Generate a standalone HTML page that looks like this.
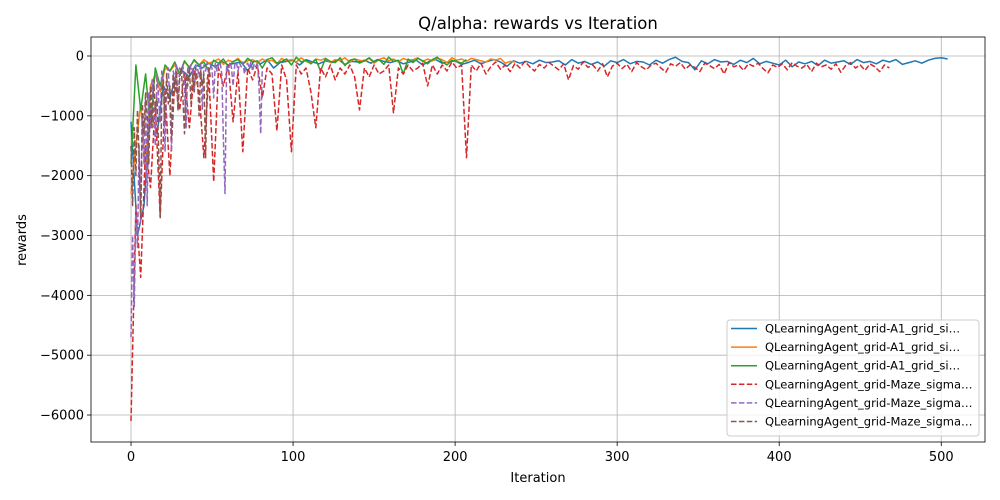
<!DOCTYPE html>
<html><head><meta charset="utf-8"><style>
body{margin:0;background:#fff;}
svg{display:block;font-family:"DejaVu Sans","Liberation Sans",sans-serif;}
</style></head><body>
<svg id="chart" width="1000" height="500" viewBox="0 0 1000 500"></svg>
<script>
const seriesNames = ["QLearningAgent_grid-A1_grid_si…","QLearningAgent_grid-A1_grid_si…","QLearningAgent_grid-A1_grid_si…","QLearningAgent_grid-Maze_sigma…","QLearningAgent_grid-Maze_sigma…","QLearningAgent_grid-Maze_sigma…"];
const xTicks = [0,100,200,300,400,500];
const yTicks = [0,-1000,-2000,-3000,-4000,-5000,-6000];
const blueStep = 4;
const blueY = [-1100,-3000,-2500,-900,-1300,-500,-700,-300,-250,-350,-150,-200,-120,-180,-90,-150,-120,-100,-250,-80,-130,-60,-200,-110,-90,-70,-150,-60,-100,-130,-80,-110,-60,-140,-90,-100,-70,-120,-60,-90,-110,-80,-130,-100,-70,-150,-90,-60,-120,-100,-80,-140,-110,-70,-130,-90,-60,-100,-170,-80,-120,-90,-130,-70,-110,-100,-80,-150,-60,-120,-90,-140,-100,-170,-80,-110,-60,-130,-90,-100,-150,-70,-120,-60,-20,-90,-110,-230,-80,-130,-60,-100,-90,-140,-70,-110,-40,-130,-90,-120,-150,-70,-180,-100,-130,-90,-160,-70,-120,-100,-80,-140,-60,-110,-90,-130,-70,-100,-60,-140,-110,-80,-120,-70,-40,-30,-50];
const orangeStep = 3;
const orangeY = [-2300,-1500,-800,-1900,-500,-300,-600,-200,-250,-150,-300,-100,-180,-80,-150,-60,-120,-90,-50,-140,-70,-100,-40,-130,-80,-60,-110,-50,-90,-70,-130,-40,-80,-60,-100,-30,-90,-120,-50,-70,-40,-110,-60,-80,-30,-100,-50,-70,-90,-40,-120,-60,-30,-80,-50,-100,-40,-70,-60,-30,-90,-50,-80,-40,-60,-110,-30,-70,-50,-90,-40,-60,-80,-100,-50,-70,-40,-120,-90,-100];
const greenStep = 3;
const greenY = [-1800,-150,-900,-300,-1200,-200,-500,-150,-250,-100,-300,-80,-200,-60,-150,-100,-250,-70,-120,-50,-180,-90,-60,-140,-40,-100,-80,-200,-60,-30,-120,-90,-50,-150,-20,-100,-70,-130,-60,-250,-40,-90,-110,-30,-160,-70,-50,-120,-80,-30,-100,-60,-140,-20,-90,-70,-300,-50,-110,-40,-80,-130,-60,-20,-100,-150,-70,-90,-120,-60];
const redStep = 3;
const redY = [-6100,-2500,-3700,-1500,-2200,-800,-2700,-600,-2000,-400,-900,-300,-1200,-250,-600,-1700,-300,-2100,-200,-500,-150,-1100,-250,-1600,-200,-400,-150,-700,-200,-300,-1250,-150,-400,-1600,-150,-300,-200,-600,-1200,-200,-350,-150,-400,-200,-300,-150,-350,-900,-200,-350,-150,-300,-250,-150,-950,-200,-300,-150,-250,-200,-120,-500,-150,-300,-150,-250,-100,-200,-150,-1700,-150,-250,-120,-300,-180,-100,-220,-150,-260,-120,-200,-90,-180,-250,-140,-200,-110,-170,-230,-130,-400,-160,-220,-100,-190,-150,-250,-130,-350,-170,-120,-210,-140,-260,-110,-180,-230,-150,-120,-200,-270,-130,-170,-110,-220,-150,-190,-260,-120,-160,-210,-140,-300,-110,-180,-150,-240,-130,-170,-120,-210,-280,-150,-190,-130,-230,-110,-170,-200,-140,-260,-120,-180,-150,-220,-130,-270,-160,-110,-200,-150,-240,-130,-180,-260,-150,-200];
const purpleStep = 1;
const purpleY = [-4700,-3000,-4200,-2500,-3200,-1500,-2800,-1000,-1800,-700,-2500,-600,-1200,-400,-900,-1500,-300,-700,-1100,-250,-500,-1600,-300,-200,-800,-1600,-250,-400,-150,-900,-200,-300,-150,-500,-1200,-200,-300,-150,-250,-600,-150,-200,-350,-120,-900,-150,-250,-100,-300,-150,-200,-700,-120,-250,-150,-100,-300,-1400,-2300,-150,-250,-100,-200,-500,-150,-100,-250,-120,-180,-100,-300,-150,-120,-200,-100,-250,-130,-180,-110,-500,-1300,-200];
const brownStep = 1;
const brownY = [-1500,-2500,-1200,-2000,-900,-1700,-2700,-800,-1300,-600,-1000,-1800,-500,-1200,-400,-900,-700,-1500,-2700,-600,-400,-1100,-300,-800,-500,-1400,-300,-600,-250,-900,-400,-200,-700,-1300,-300,-500,-200,-800,-300,-600,-200,-400,-1000,-250,-500,-300,-1700,-400,-200,-350];

const colors = ["#1f77b4","#ff7f0e","#2ca02c","#d62728","#9467bd","#8c564b"];
const ns = "http://www.w3.org/2000/svg";
const svg = document.getElementById('chart');
const L=91,R=985,T=37,B=442;
const xMin=-24.7,xMax=527,yMin=-6451,yMax=317.6;
const xs = v => L+(v-xMin)/(xMax-xMin)*(R-L);
const ys = v => B-(v-yMin)/(yMax-yMin)*(B-T);
function mk(tag, attrs, parent){const e=document.createElementNS(ns,tag);for(const k in attrs)e.setAttribute(k,attrs[k]);(parent||svg).appendChild(e);return e;}

const grid = mk('g',{});


const axes = mk('g',{});


xTicks.forEach(t=>{
  const x=xs(t);
  mk('line',{x1:x,x2:x,y1:T,y2:B,stroke:'#b0b0b0','stroke-width':0.8},grid);
  mk('line',{x1:x,x2:x,y1:B,y2:B+4,stroke:'#000','stroke-width':0.8},axes);
  const tx=mk('text',{x:x,y:B+19,'text-anchor':'middle','font-size':13,fill:'#000'},axes);
  tx.textContent=t;
  
  
});
yTicks.forEach(t=>{
  const y=ys(t);
  mk('line',{x1:L,x2:R,y1:y,y2:y,stroke:'#b0b0b0','stroke-width':0.8},grid);
  mk('line',{x1:L-4,x2:L,y1:y,y2:y,stroke:'#000','stroke-width':0.8},axes);
  const tx=mk('text',{x:L-7,y:y+4.5,'text-anchor':'end','font-size':13,fill:'#000'},axes);
  tx.textContent=t===0?'0':'\u2212'+Math.abs(t);
  
  
});

const allY=[blueY,orangeY,greenY,redY,purpleY,brownY];
const steps=[blueStep,orangeStep,greenStep,redStep,purpleStep,brownStep];
const lineNames=['series-a1-1','series-a1-2','series-a1-3','series-maze-1','series-maze-2','series-maze-3'];
const clip=mk('clipPath',{id:'pc'});mk('rect',{x:L,y:T,width:R-L,height:B-T},clip);
allY.forEach((arr,si)=>{
  const d=arr.map((v,i)=>(i?'L':'M')+xs(i*steps[si]).toFixed(1)+','+ys(v).toFixed(1)).join('');
  const p=mk('path',{d:d,fill:'none',stroke:colors[si],'stroke-width':1.5,'stroke-linejoin':'round','clip-path':'url(#pc)'});
  if(si>=3)p.setAttribute('stroke-dasharray','5.5,2.4');
  
  
});

mk('rect',{x:L,y:T,width:R-L,height:B-T,fill:'none',stroke:'#000','stroke-width':0.8},axes);
const title=mk('text',{x:(L+R)/2,y:29,'text-anchor':'middle','font-size':16.5,fill:'#000'});
title.textContent='Q/alpha: rewards vs Iteration';


const xl=mk('text',{x:(L+R)/2,y:482,'text-anchor':'middle','font-size':13,fill:'#000'});
xl.textContent='Iteration';


const yl=mk('text',{x:0,y:0,'text-anchor':'middle','font-size':13,fill:'#000',transform:'translate(26,240) rotate(-90)'});
yl.textContent='rewards';



const lg=mk('g',{});


mk('rect',{x:727,y:320,width:252,height:116,rx:3,fill:'#fff','fill-opacity':0.8,stroke:'#ccc','stroke-width':1},lg);
seriesNames.forEach((n,i)=>{
  const y=328.5+i*18.6;
  const ln=mk('line',{x1:731,x2:757,y1:y,y2:y,stroke:colors[i],'stroke-width':1.5},lg);
  if(i>=3)ln.setAttribute('stroke-dasharray','5.5,2.4');
  const t=mk('text',{x:765,y:y+4,'font-size':11.5,fill:'#000'},lg);
  t.textContent=n;
  
  
});
</script>
</body></html>
